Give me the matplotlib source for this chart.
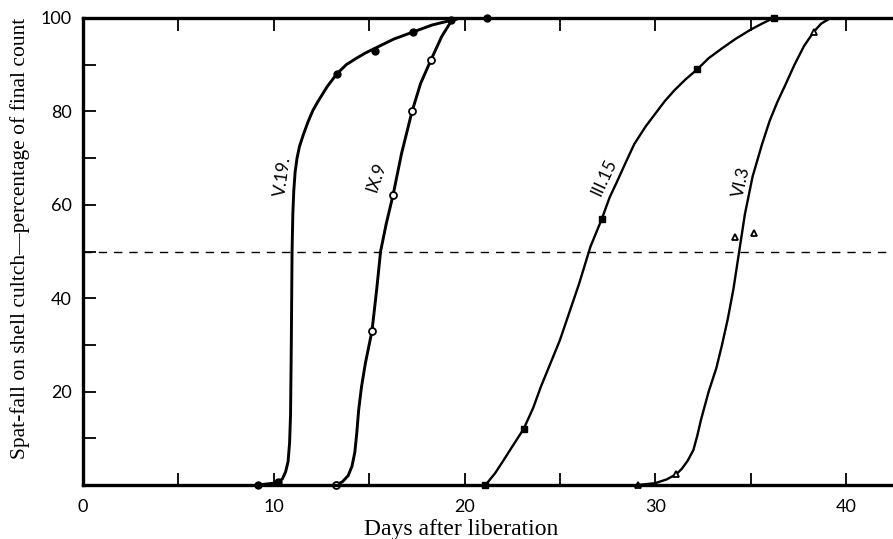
import matplotlib
matplotlib.use("Agg")
import matplotlib.pyplot as plt

# measured points (day, percent of final count)
v19_days = [9.2, 10.2, 13.3, 15.3, 17.3, 19.3, 21.2]
v19_pct = [0, 0.6, 88, 93, 97, 99.5, 100]
ix9_days = [13.26, 15.15, 16.25, 17.25, 18.24]
ix9_pct = [0, 33, 62, 80, 91]
iii15_days = [21.1, 23.1, 27.2, 32.2, 36.2]
iii15_pct = [0, 12, 57, 89, 100]
vi3_days = [29.1, 31.1, 34.2, 35.2, 38.3]
vi3_pct = [0, 2.3, 53, 54, 97]

# hand drawn curves
v19_cx = [9.2, 10.2, 10.45, 10.62, 10.75, 10.83, 10.88, 10.92, 10.96, 11.0,
          11.05, 11.12, 11.22, 11.35, 11.55, 11.8, 12.05, 12.3, 12.8, 13.3,
          13.8, 14.3, 14.8, 15.3, 16.3, 17.3, 18.3, 19.3, 19.8, 21.2]
v19_cy = [0, 0.5, 1.3, 2.8, 5, 9, 15, 30, 50, 58,
          63, 67, 70, 72.5, 75, 77.8, 80.2, 82, 85.3, 88,
          90, 91.3, 92.5, 93.5, 95.5, 97, 98.5, 99.5, 100, 100]
ix9_cx = [13.26, 13.6, 13.9, 14.1, 14.25, 14.35, 14.45, 14.6, 14.8, 15.0,
          15.15, 15.4, 15.6, 15.9, 16.25, 16.7, 17.25, 17.7, 18.24, 18.8,
          19.3, 19.7]
ix9_cy = [0, 0.7, 2, 4, 7, 11, 16, 21, 26, 30,
          33, 42, 50, 56, 62, 71, 80, 86, 91, 96,
          99.3, 100]
iii15_cx = [21.1, 21.6, 22.0, 22.5, 23.1, 23.6, 24.0, 24.5, 25.0, 25.5,
            26.0, 26.6, 27.2, 27.6, 28.0, 28.5, 28.9, 29.5, 30.0, 30.5,
            31.0, 31.6, 32.2, 32.8, 33.5, 34.2, 35.0, 35.6, 36.2]
iii15_cy = [0, 2.5, 5, 8.2, 12, 16.5, 21, 26, 31, 37,
            43, 51, 57, 61.5, 65, 69.5, 73, 76.8, 79.5, 82.2,
            84.5, 86.9, 89, 91.4, 93.5, 95.5, 97.5, 98.8, 100]
vi3_cx = [29.1, 30.0, 30.6, 31.1, 31.4, 31.7, 32.0, 32.2, 32.4, 32.6,
          32.8, 33.0, 33.2, 33.5, 33.8, 34.1, 34.4, 34.7, 35.1, 35.6,
          36.0, 36.4, 36.8, 37.3, 37.8, 38.3, 38.7, 39.2]
vi3_cy = [0, 0.4, 1.2, 2.3, 3.5, 5.2, 7.5, 10.5, 14, 17,
          20, 22.5, 25, 30, 35.5, 42, 50, 58, 66, 73,
          78, 82, 85.5, 90, 94, 97, 98.8, 100]

curve_names = ["V.19.", "IX.9", "III.15", "VI.3"]
label_x = [10.45, 15.4, 27.3, 34.5]
label_y = [66, 66, 66, 65]
label_rot = [82, 72, 65, 77]

fig = plt.figure(figsize=(8.93, 5.39), dpi=100)
ax = fig.add_axes([83/893, 1-485/539, 1-83/893, (485-18)/539])

line_kw = dict(color="black", solid_joinstyle="round", solid_capstyle="round")
ax.plot(v19_cx, v19_cy, lw=2.1, **line_kw)
ax.plot(ix9_cx, ix9_cy, lw=2.1, **line_kw)
ax.plot(iii15_cx, iii15_cy, lw=1.7, **line_kw)
ax.plot(vi3_cx, vi3_cy, lw=1.7, **line_kw)

ax.plot(v19_days, v19_pct, "o", color="black", ms=5, clip_on=False)
ax.plot(ix9_days, ix9_pct, "o", mfc="white", mec="black", mew=1.3, ms=5, clip_on=False)
ax.plot(iii15_days, iii15_pct, "s", color="black", ms=5, clip_on=False)
ax.plot(vi3_days, vi3_pct, "^", mfc="white", mec="black", mew=1.3, ms=5, clip_on=False)

ax.axhline(50, color="black", lw=1.0, ls=(0, (6, 5)))

for name, x, y, r in zip(curve_names, label_x, label_y, label_rot):
    ax.text(x, y, name, rotation=r, ha="center", va="center",
            fontsize=12.5, family="Lato")

ax.set_xlim(0, (893-83)/19.075)
ax.set_ylim(0, 100)
ax.set_xticks([0, 5, 10, 15, 20, 25, 30, 35, 40])
ax.set_xticklabels(["0", "", "10", "", "20", "", "30", "", "40"])
ax.set_yticks([10, 20, 30, 40, 50, 60, 70, 80, 90, 100])
ax.set_yticklabels(["", "20", "", "40", "", "60", "", "80", "", "100"])
ax.tick_params(direction="in", top=True, length=9, width=1.3,
               labelsize=13, pad=8)
ax.tick_params(axis="x", pad=10)
for lab in ax.get_xticklabels() + ax.get_yticklabels():
    lab.set_family("Lato")

for s in ["left", "bottom", "top"]:
    ax.spines[s].set_linewidth(2.4)
ax.spines["right"].set_visible(False)

ax.set_xlabel("Days after liberation", family="Liberation Serif", fontsize=17)
ax.set_ylabel("Spat-fall on shell cultch\u2014percentage of final count",
              family="Liberation Serif", fontsize=15.5)
ax.xaxis.set_label_coords((461-83)/810, (485-530)/467)
ax.xaxis.label.set_va("center")
ax.yaxis.set_label_coords((20-83)/810, (485-238)/467)
ax.yaxis.label.set_va("center")

fig.savefig("out.png", dpi=100)
